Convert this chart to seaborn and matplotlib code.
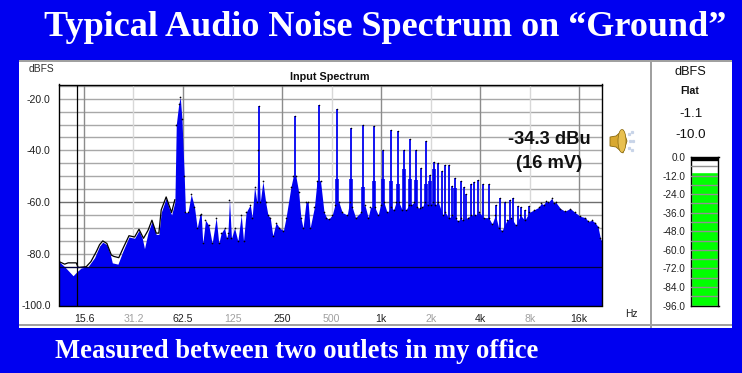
import matplotlib
matplotlib.use("Agg")
import matplotlib.pyplot as plt
from matplotlib.patches import Rectangle, Polygon, Ellipse
import seaborn as sns

# noise floor of the spectrum (Hz, dBFS)
floor_freq = [11.0, 11.9, 13.4, 14.1, 15.0, 16.5, 18.1, 19.4, 20.3, 21.5, 22.5, 23.2, 25.1, 26.9, 29.3,
              31.7, 33.7, 35.3, 36.4, 38.2, 40.4, 42.9, 44.5, 46.0, 49.3, 51.2, 53.2, 55.7, 56.8, 58.8,
              60.1, 61.5, 63.5, 64.6, 66.9, 70.0, 73.3, 76.1, 79.0, 80.5, 82.3, 85.5, 89.6, 93.8, 99.3,
              103, 106.5, 111.6, 115, 117, 119.6, 123, 128.4, 134.5, 141, 145.6, 151, 160, 164.3, 169.9,
              175.6, 178.9, 184, 191, 198.5, 204.9, 211.6, 219.3, 229.7, 240.6, 254.5, 264, 283, 292, 303,
              315, 325, 335, 349, 359.7, 369.8, 392.6, 407, 428, 449, 465, 481, 504, 524, 553,
              580, 622, 642, 667, 699, 749, 795, 834, 861, 915, 959, 991, 1038, 1087, 1155,
              1190, 1233, 1280, 1341, 1418, 1472, 1527, 1586, 1654, 1717, 1774, 1843, 1928, 2004, 2070,
              2139, 2222, 2371, 2456, 2577, 2703, 2834, 2935, 3037, 3130, 3361, 3524, 3740, 3950, 4200,
              4500, 4725, 4950, 5180, 5430, 5820, 6160, 6600, 7020, 7460, 7960, 8490, 9080, 9400, 9720,
              10050, 10400, 10900, 11200, 11500, 12300, 13100, 14100, 15100, 16200, 17400, 18200, 19100, 20000, 20800,
              21500, 21900]
floor_level = [-83, -85, -88.5, -87, -85.5, -85, -81.5, -77, -75.5, -76.5, -80, -83.5, -84, -79, -73.5,
               -74, -71, -74, -78, -72, -67.5, -72.5, -72.5, -64, -58.5, -62, -65, -60, -30, -22,
               -19.5, -28, -50, -64, -64, -57, -62, -70, -65, -64.5, -76, -67, -69, -76, -66,
               -76, -72, -70, -74, -72, -59, -74, -70, -75, -65, -75, -64, -61, -66, -54,
               -60, -40, -60, -52, -60, -65, -66, -73, -68, -70, -71, -66, -54, -50, -50,
               -56, -66, -70, -60, -60, -70, -62, -52, -52, -63.7, -66, -66.5, -65, -61, -60,
               -64, -65, -60, -62, -66, -64, -61, -66, -62, -62, -65, -61, -60, -64, -62,
               -63, -60, -60, -63, -63, -61, -61, -60, -62, -62.4, -62, -60, -61, -61, -60,
               -61, -60, -65, -64, -66.3, -65, -66, -67.5, -66, -67, -66, -65, -65, -64, -66,
               -66, -68.5, -65, -70, -71, -67, -66, -69, -65, -67, -64, -63, -62, -60.5, -61,
               -59.5, -60, -58.5, -60.5, -60, -62.5, -63.5, -62.5, -64, -65.5, -66, -67.5, -67, -68, -69.5,
               -74, -75]

# mains hum harmonics sticking out of the floor
tone_freq = [180, 300, 420, 540, 660, 780, 900, 1020, 1140, 1260, 1380, 1500, 1620, 1740, 1860,
             1980, 2100, 2220, 2340, 2460, 2580, 2700, 2820, 3060, 3180, 3300, 3540, 3660, 3900, 4140,
             4500, 4980, 5300, 5640, 6100, 6320, 6800, 7050, 7530, 7870]
tone_level = [-23, -26.5, -22.3, -24, -31.5, -30, -30.5, -40, -32, -32.5, -40, -35.5, -40, -46.7, -36.5,
              -49.5, -44.5, -44.7, -48, -45.7, -45.5, -53.6, -50.5, -52, -54, -57, -53, -52.4, -51.5, -53,
              -53, -61, -58.5, -60, -59, -58.5, -61.5, -62, -63, -61.5]

# the wider base of the strongest harmonics
skirt_freq = [420, 540, 660, 780, 900, 1020, 1140, 1260, 1380, 1500, 1620, 1860, 1980, 2100, 2820]
skirt_level = [-52, -51, -51, -54, -52, -51, -52, -53, -47, -51, -51.5, -53, -52, -47, -54.7]

# peak hold trace at the low end
hold_freq = [11.0, 11.9, 12.5, 14.0, 14.4, 16.1, 17.2, 18.6, 19.4, 20.3, 21.5, 22.9, 23.7, 25.4,
             26.9, 29.3, 31.7, 33.7, 35.9, 38.2, 40.4, 42.9, 44.5, 46.0, 49.3, 51.2, 53.2, 55.7]
hold_level = [-83, -84, -83.5, -83.5, -85.3, -85, -83, -79, -76.5, -75, -76, -80.5, -81, -81.5,
              -78, -73, -73.5, -70.5, -74, -71, -67, -72, -72, -63, -58, -61, -64, -59]

octave_freq = [15.6, 31.2, 62.5, 125, 250, 500, 1000, 2000, 4000, 8000, 16000]
octave_labels = ["15.6", "31.2", "62.5", "125", "250", "500", "1k", "2k", "4k", "8k", "16k"]
db_ticks = [-20, -40, -60, -80, -100]
db_grid = [-15, -20, -25, -30, -35, -40, -45, -50, -55, -60, -65, -70, -75, -80, -85, -90, -95]
cursor_freq = 14.1
cursor_level = -85

meter_ticks = [0, -12, -24, -36, -48, -60, -72, -84, -96]
meter_grid = [-6, -12, -18, -24, -30, -36, -42, -48, -54, -60, -66, -72, -78, -84, -90]
meter_peak = -1.1
meter_rms = -10.0

BLUE = "#0000f0"
FILL = "#0000f0"
W, H = 742, 373

sns.set_theme(style="white")
plt.rcParams["font.family"] = ["Liberation Sans", "DejaVu Sans"]

fig = plt.figure(figsize=(W / 100, H / 100), dpi=100, facecolor=BLUE)


def px_axes(left, top, right, bottom, **kw):
    return fig.add_axes([left / W, 1 - bottom / H, (right - left) / W, (bottom - top) / H], **kw)


# full size layer in pixels for the panel, frames and speaker
bg = px_axes(0, 0, W, H)
bg.set_xlim(0, W)
bg.set_ylim(H, 0)
bg.axis("off")
bg.add_patch(Rectangle((19, 61), 713, 267, fc="white", ec="none"))
bg.add_patch(Rectangle((19, 60), 713, 2, fc="#a0a0a0", ec="none"))
bg.add_patch(Rectangle((19, 324), 713, 1.5, fc="#a0a0a0", ec="none"))
bg.add_patch(Rectangle((650, 61), 2, 267, fc="#a0a0a0", ec="none"))
# speaker icon
bg.add_patch(Polygon([(610, 137), (616, 136), (623, 130), (627, 141), (623, 153), (616, 147), (610, 146)],
                     fc="#d8a830", ec="#8a6a10", lw=0.6))
bg.add_patch(Ellipse((622, 141), 8, 23, fc="#e8c050", ec="#8a6a10", lw=0.5))
bg.plot([629, 632, 630, 633, 629, 632], [134, 132, 141, 141, 148, 150], ls="none", marker="s", ms=1.3,
        color="#c8d4e8")

# spectrum
ax = px_axes(59, 84.5, 602, 305.5)
ax.set_xscale("log", base=2)
ax.set_xlim(11, 22000)
ax.set_ylim(-100, -14.5)
ax.set_facecolor("white")
for d in db_grid:
    ax.axhline(d, color="#6e6e6e" if d == -60 else "#a8a8a8", lw=1, zorder=1)
for i, f in enumerate(octave_freq):
    ax.axvline(f, color="#d8d8d8" if i % 2 else "#8c8c8c", lw=1, zorder=1)
ax.fill_between(floor_freq, floor_level, -100, color=FILL, lw=0, zorder=2)
ax.vlines(skirt_freq, -100, skirt_level, color=FILL, lw=2.6, zorder=2)
ax.vlines(tone_freq, -100, tone_level, color=FILL, lw=1.3, zorder=2)
sns.lineplot(x=hold_freq, y=hold_level, color="black", lw=0.9, ax=ax, zorder=3, errorbar=None, sort=False)
sns.scatterplot(x=floor_freq[28:], y=floor_level[28:], color="black", s=1.5, lw=0, ax=ax, zorder=3)
sns.scatterplot(x=tone_freq, y=tone_level, color="black", s=1.2, lw=0, ax=ax, zorder=3)
ax.axvline(cursor_freq, color="black", lw=0.9, zorder=4)
ax.axhline(cursor_level, color="#000040", lw=0.9, zorder=4)
ax.minorticks_off()
ax.set_xticks(octave_freq)
ax.set_xticklabels(octave_labels, fontsize=7.6)
for i, lab in enumerate(ax.get_xticklabels()):
    lab.set_color("#a0a0a0" if i % 2 else "#202020")
ax.set_yticks(db_ticks)
ax.set_yticklabels(["%.1f" % d for d in db_ticks], fontsize=7.6, color="#202020")
ax.tick_params(length=0, pad=6)
for s in ax.spines.values():
    s.set_visible(True)
    s.set_color("black")
    s.set_linewidth(1)
    s.set_zorder(5)

# level meter
mx = px_axes(691, 157, 718.5, 305.5)
sns.barplot(x=["rms"], y=[meter_rms - meter_ticks[-1]], bottom=meter_ticks[-1], color="#00ff00", saturation=1,
            width=1, ax=mx, zorder=2)
mx.set_xlim(-0.5, 0.5)
mx.set_ylim(-96, 0)
mx.set_xlabel("")
mx.set_ylabel("")
mx.set_xticks([])
for d in meter_grid:
    mx.axhline(d, color="#909090", lw=1, zorder=3)
mx.axhline(meter_peak, color="black", lw=2.4, zorder=4)
mx.set_yticks(meter_ticks)
mx.set_yticklabels(["%.1f" % d for d in meter_ticks], fontsize=7.2, color="#202020")
mx.tick_params(length=0, pad=4)
for s in mx.spines.values():
    s.set_visible(True)
    s.set_color("black")
    s.set_linewidth(1)


def px_text(x, y, s, **kw):
    kw.setdefault("va", "center")
    fig.text(x / W, 1 - y / H, s, **kw)


px_text(385, 27, "Typical Audio Noise Spectrum on \u201cGround\u201d", ha="center", color="white", fontsize=26,
        family="Liberation Serif", weight="bold")
px_text(55, 352, "Measured between two outlets in my office", ha="left", color="white", fontsize=19.2,
        family="Liberation Serif", weight="bold")
px_text(330, 77, "Input Spectrum", ha="center", fontsize=7.8, weight="bold", color="#101010")
px_text(29, 69, "dBFS", ha="left", fontsize=7.4, color="#303030")
px_text(631, 314, "Hz", ha="center", fontsize=7.4, color="#202020")
px_text(549, 140, "-34.3 dBu", ha="center", fontsize=13.2, weight="bold", color="#101010")
px_text(549, 163, "(16 mV)", ha="center", fontsize=13.2, weight="bold", color="#101010")
px_text(690, 72, "dBFS", ha="center", fontsize=9.2, color="#101010")
px_text(690, 91, "Flat", ha="center", fontsize=7.6, weight="bold", color="#101010")
px_text(691, 114, "-1.1", ha="center", fontsize=9.6, color="#101010")
px_text(691, 135, "-10.0", ha="center", fontsize=9.6, color="#101010")

fig.savefig("out.png", dpi=100, facecolor=BLUE)
